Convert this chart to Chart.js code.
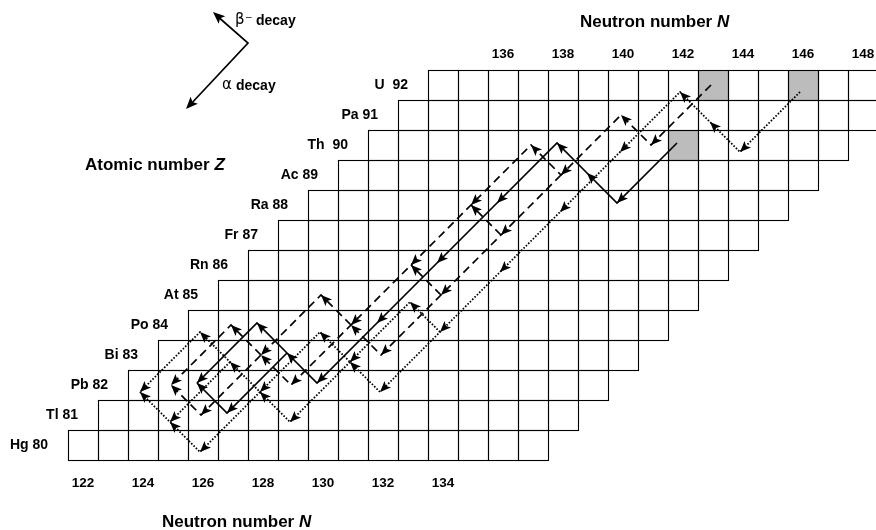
<!DOCTYPE html>
<html><head><meta charset="utf-8">
<script src="https://cdn.jsdelivr.net/npm/chart.js@4.4.1/dist/chart.umd.min.js"></script>
<style>html,body{margin:0;padding:0;background:#fff;}#wrap{width:876px;height:530px;position:relative;}</style>
</head><body><div id="wrap"><canvas id="c"></canvas></div>
<script>
// ---- data ----
const rowLabels = ['Hg 80','Tl 81','Pb 82','Bi 83','Po 84','At 85','Rn 86','Fr 87','Ra 88','Ac 89','Th  90','Pa 91','U  92'];
const atomicNumbers = [80,81,82,83,84,85,86,87,88,89,90,91,92];
const rowFirstN = [122,123,124,125,126,127,128,129,130,131,132,133,134];
const rowLastN  = [137,138,139,140,141,142,143,144,145,146,147,148,149];
const bottomTicks = [122,124,126,128,130,132,134];
const topTicks = [136,138,140,142,144,146,148];
const shadedCells = [[146,92],[143,92],[142,90]];

// Th-232 series (solid)
const thoriumMain   = [[142,90],[140,88],[139,89],[138,90],[136,88],[134,86],[132,84],[130,82],[129,83],[128,84],[126,82]];
const thoriumTl208  = [[129,83],[127,81],[126,82]];
// U-235 series (dashed)
const actiniumMain  = [[143,92],[141,90],[140,91],[138,89],[137,90],[135,88],[133,86],[131,84],[129,82],[128,83],[126,81],[125,82]];
const actiniumFr223 = [[138,89],[136,87],[134,85],[132,83],[131,84]];
const actiniumFrRa  = [[136,87],[135,88]];
const actiniumAtRn  = [[134,85],[133,86]];
const actiniumAt215 = [[131,84],[130,85],[128,83]];
const actiniumPo211 = [[128,83],[127,84],[125,82]];
// U-238 series (dotted)
const uraniumMain   = [[146,92],[144,90],[143,91],[142,92],[140,90],[138,88],[136,86],[134,84],[132,82],[131,83],[130,84],[128,82],[127,83],[126,84],[124,82]];
const uraniumAt218  = [[134,84],[133,85],[131,83]];
const uraniumTl210  = [[131,83],[129,81],[128,82]];
const uraniumHg206  = [[128,82],[126,80],[125,81],[124,82]];
const uraniumTl206  = [[127,83],[125,81]];

// ---- styles ----
const styles = {
  solid:  {dash: [],        width: 1.7, off: [-6,-2]},
  dashed: {dash: [8,5],     width: 1.7, off: [-2,0]},
  dotted: {dash: [1.6,1.7], width: 1.8, off: [-3,7]}
};
const chains = [
  [thoriumMain,'solid'],[thoriumTl208,'solid'],
  [actiniumMain,'dashed'],[actiniumFr223,'dashed'],[actiniumFrRa,'dashed'],[actiniumAtRn,'dashed'],[actiniumAt215,'dashed'],[actiniumPo211,'dashed'],
  [uraniumMain,'dotted'],[uraniumAt218,'dotted'],[uraniumTl210,'dotted'],[uraniumHg206,'dotted'],[uraniumTl206,'dotted']
];

const datasets = chains.map(([pts, st]) => ({
  data: pts.map(([n,z]) => ({x:n, y:z})),
  showLine: true, fill: false, tension: 0,
  borderColor: '#000', borderWidth: styles[st].width, borderDash: styles[st].dash,
  borderCapStyle: 'butt', pointRadius: 0, pointHoverRadius: 0,
  offsetPx: styles[st].off, clip: false
}));

const FONT = '"Liberation Sans", Arial, Helvetica, sans-serif';

function arrowHead(ctx, x0, y0, x1, y1, L, W) {
  const a = Math.atan2(y1-y0, x1-x0), c = Math.cos(a), s = Math.sin(a);
  const bx = x1 - L*c, by = y1 - L*s;
  const nx = x1 - (L-2.5)*c, ny = y1 - (L-2.5)*s;
  ctx.beginPath();
  ctx.moveTo(x1, y1);
  ctx.lineTo(bx - W*s, by + W*c);
  ctx.lineTo(nx, ny);
  ctx.lineTo(bx + W*s, by - W*c);
  ctx.closePath();
  ctx.fill();
}

const gridPlugin = {
  id: 'nuclideGrid',
  beforeDatasetsDraw(chart) {
    const ctx = chart.ctx, xs = chart.scales.x, ys = chart.scales.y;
    const px = v => xs.getPixelForValue(v), py = v => ys.getPixelForValue(v);
    ctx.save();
    ctx.fillStyle = '#bcbcbc';
    shadedCells.forEach(([n,z]) => {
      const x0 = px(n-0.5), x1 = px(n+0.5), y0 = py(z+0.5), y1 = py(z-0.5);
      ctx.fillRect(x0, y0, x1-x0, y1-y0);
    });
    ctx.strokeStyle = '#000'; ctx.lineWidth = 1.1;
    atomicNumbers.forEach((z, i) => {
      for (let n = rowFirstN[i]; n <= rowLastN[i]; n++) {
        const x0 = Math.round(px(n-0.5))+0.5, x1 = Math.round(px(n+0.5))+0.5;
        const y0 = Math.round(py(z+0.5))+0.5, y1 = Math.round(py(z-0.5))+0.5;
        ctx.strokeRect(x0, y0, x1-x0, y1-y0);
      }
    });
    // texts
    ctx.fillStyle = '#000';
    ctx.font = 'bold 14px ' + FONT;
    ctx.textBaseline = 'middle';
    ctx.textAlign = 'right';
    atomicNumbers.forEach((z, i) => {
      ctx.fillText(rowLabels[i], px(rowFirstN[i]-0.5) - 20, py(z));
    });
    ctx.textAlign = 'center';
    ctx.font = 'bold 13.5px ' + FONT;
    bottomTicks.forEach(n => ctx.fillText(String(n), px(n), 483));
    topTicks.forEach(n => ctx.fillText(String(n), px(n), 54));
    // titles
    ctx.textAlign = 'left'; ctx.textBaseline = 'alphabetic';
    function title(txt, it, x, y) {
      ctx.font = 'bold 17px ' + FONT;
      ctx.fillText(txt, x, y);
      const w = ctx.measureText(txt).width;
      ctx.font = 'italic bold 17px ' + FONT;
      ctx.fillText(it, x + w, y);
    }
    title('Neutron number ', 'N', 580, 27);
    title('Neutron number ', 'N', 162, 527);
    title('Atomic number ', 'Z', 85, 170);
    // decay legend
    ctx.strokeStyle = '#000'; ctx.lineWidth = 1.7;
    ctx.beginPath();
    ctx.moveTo(216, 15); ctx.lineTo(248, 43); ctx.lineTo(189, 106);
    ctx.stroke();
    arrowHead(ctx, 248, 43, 213, 12, 12, 5);
    arrowHead(ctx, 248, 43, 186, 109, 12, 5);
    ctx.textBaseline = 'middle';
    ctx.font = '15px "DejaVu Sans", sans-serif';
    ctx.fillText('\u03b2', 235, 20);
    ctx.font = '10px ' + FONT;
    ctx.fillText('\u2013', 246, 17);
    ctx.font = 'bold 14px ' + FONT;
    ctx.fillText('decay', 256, 21);
    ctx.font = '15px "DejaVu Sans", sans-serif';
    ctx.fillText('\u03b1', 222, 85);
    ctx.font = 'bold 14px ' + FONT;
    ctx.fillText('decay', 236, 86);
    ctx.restore();
  },
  beforeDatasetDraw(chart, args) {
    const off = chart.data.datasets[args.index].offsetPx || [0,0];
    chart.ctx.save();
    chart.ctx.translate(off[0], off[1]);
  },
  afterDatasetDraw(chart, args) {
    const ctx = chart.ctx, pts = args.meta.data;
    ctx.fillStyle = '#000';
    for (let i = 1; i < pts.length; i++) {
      arrowHead(ctx, pts[i-1].x, pts[i-1].y, pts[i].x, pts[i].y, 11, 4.6);
    }
    ctx.restore();
  }
};

// x: N=122 centred at 83px, 30px per N; y: Z=80 centred at 445px, 30px per Z
new Chart(document.getElementById('c'), {
  type: 'scatter',
  data: { datasets },
  options: {
    responsive: true, maintainAspectRatio: false, animation: false,
    layout: { padding: 0 },
    plugins: { legend: { display: false }, tooltip: { enabled: false } },
    events: [],
    scales: {
      x: { type: 'linear', display: false, min: 122 - 83/30, max: 122 - 83/30 + 876/30 },
      y: { type: 'linear', display: false, min: 80 - 85/30, max: 80 + 445/30 }
    }
  },
  plugins: [gridPlugin]
});
</script></body></html>
